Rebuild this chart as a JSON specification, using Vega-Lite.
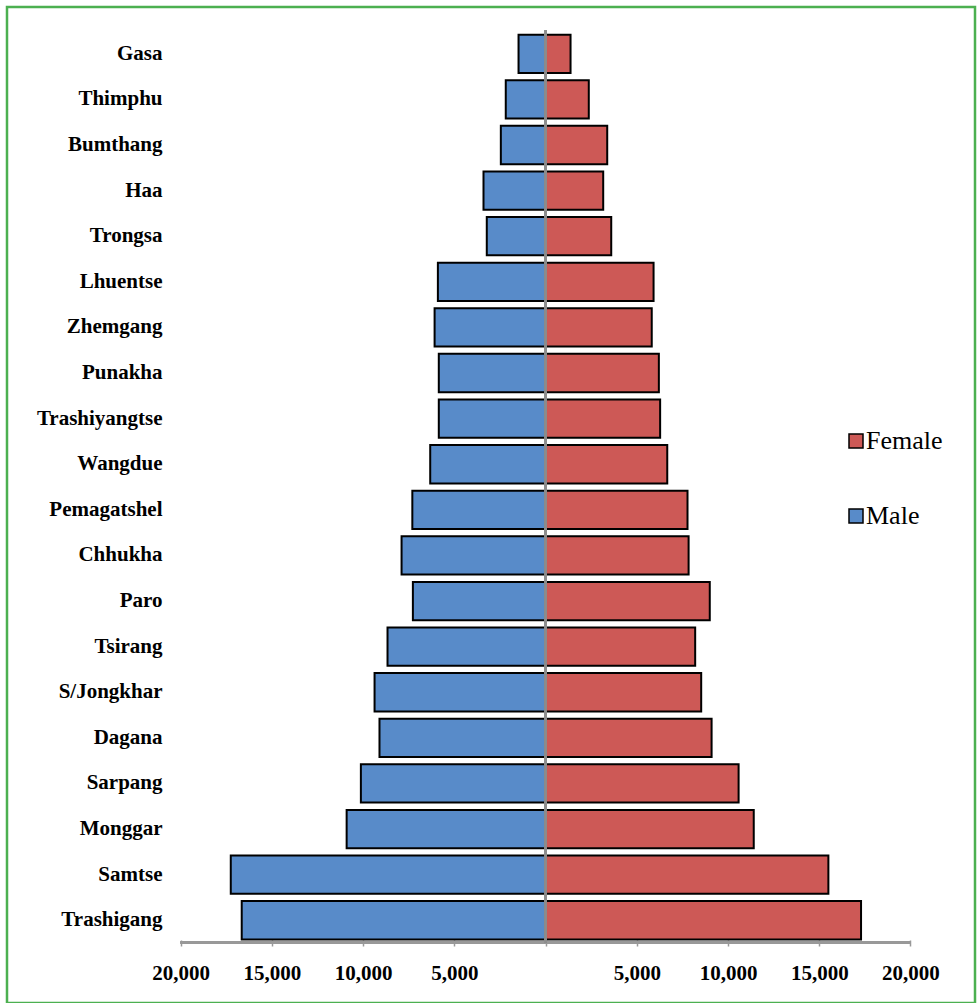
{
  "$schema": "https://vega.github.io/schema/vega-lite/v6.json",
  "width": 968,
  "height": 996,
  "padding": {"left": 7, "top": 7, "right": 2, "bottom": 0},
  "background": "white",
  "config": {
    "view": {"stroke": "#4CB050", "strokeWidth": 2.5},
    "font": "Liberation Serif"
  },
  "data": {
    "values": [
      {"district": "Gasa", "sex": "Male", "value": -1480},
      {"district": "Gasa", "sex": "Female", "value": 1370},
      {"district": "Thimphu", "sex": "Male", "value": -2180},
      {"district": "Thimphu", "sex": "Female", "value": 2370},
      {"district": "Bumthang", "sex": "Male", "value": -2450},
      {"district": "Bumthang", "sex": "Female", "value": 3380},
      {"district": "Haa", "sex": "Male", "value": -3400},
      {"district": "Haa", "sex": "Female", "value": 3160},
      {"district": "Trongsa", "sex": "Male", "value": -3220},
      {"district": "Trongsa", "sex": "Female", "value": 3600},
      {"district": "Lhuentse", "sex": "Male", "value": -5900},
      {"district": "Lhuentse", "sex": "Female", "value": 5920},
      {"district": "Zhemgang", "sex": "Male", "value": -6080},
      {"district": "Zhemgang", "sex": "Female", "value": 5820},
      {"district": "Punakha", "sex": "Male", "value": -5850},
      {"district": "Punakha", "sex": "Female", "value": 6210},
      {"district": "Trashiyangtse", "sex": "Male", "value": -5850},
      {"district": "Trashiyangtse", "sex": "Female", "value": 6280},
      {"district": "Wangdue", "sex": "Male", "value": -6320},
      {"district": "Wangdue", "sex": "Female", "value": 6670},
      {"district": "Pemagatshel", "sex": "Male", "value": -7300},
      {"district": "Pemagatshel", "sex": "Female", "value": 7780},
      {"district": "Chhukha", "sex": "Male", "value": -7890},
      {"district": "Chhukha", "sex": "Female", "value": 7840},
      {"district": "Paro", "sex": "Male", "value": -7270},
      {"district": "Paro", "sex": "Female", "value": 9000},
      {"district": "Tsirang", "sex": "Male", "value": -8660},
      {"district": "Tsirang", "sex": "Female", "value": 8200},
      {"district": "S/Jongkhar", "sex": "Male", "value": -9370},
      {"district": "S/Jongkhar", "sex": "Female", "value": 8530},
      {"district": "Dagana", "sex": "Male", "value": -9100},
      {"district": "Dagana", "sex": "Female", "value": 9100},
      {"district": "Sarpang", "sex": "Male", "value": -10120},
      {"district": "Sarpang", "sex": "Female", "value": 10580},
      {"district": "Monggar", "sex": "Male", "value": -10900},
      {"district": "Monggar", "sex": "Female", "value": 11410},
      {"district": "Samtse", "sex": "Male", "value": -17250},
      {"district": "Samtse", "sex": "Female", "value": 15500},
      {"district": "Trashigang", "sex": "Male", "value": -16650},
      {"district": "Trashigang", "sex": "Female", "value": 17290}
    ]
  },
  "layer": [
    {
      "mark": {"type": "bar", "stroke": "black", "strokeWidth": 2, "strokeJoin": "miter"},
      "encoding": {
        "y": {
          "field": "district",
          "type": "nominal",
          "scale": {
            "domain": ["Gasa", "Thimphu", "Bumthang", "Haa", "Trongsa", "Lhuentse", "Zhemgang", "Punakha", "Trashiyangtse", "Wangdue", "Pemagatshel", "Chhukha", "Paro", "Tsirang", "S/Jongkhar", "Dagana", "Sarpang", "Monggar", "Samtse", "Trashigang"],
            "paddingInner": 0.16,
            "paddingOuter": 1.042,
            "align": 0.303
          },
          "axis": {
            "title": null,
            "domain": false,
            "ticks": false,
            "tickSize": 0,
            "labelPadding": 0,
            "offset": -155,
            "labelFont": "Liberation Serif",
            "labelFontWeight": "bold",
            "labelFontSize": 21,
            "labelColor": "black"
          }
        },
        "x": {
          "field": "value",
          "type": "quantitative",
          "scale": {"domain": [-29513, 23535], "nice": false, "zero": false},
          "axis": {
            "title": null,
            "values": [-20000, -15000, -10000, -5000, 0, 5000, 10000, 15000, 20000],
            "labelExpr": "datum.value == 0 ? '' : format(abs(datum.value), ',')",
            "domain": false,
            "grid": false,
            "ticks": true,
            "tickSize": 6,
            "tickColor": "#999999",
            "tickWidth": 1.5,
            "offset": -63,
            "labelPadding": 16,
            "labelFont": "Liberation Serif",
            "labelFontWeight": "bold",
            "labelFontSize": 21,
            "labelColor": "black",
            "labelFlush": false,
            "labelOverlap": false
          }
        },
        "color": {
          "field": "sex",
          "type": "nominal",
          "scale": {"domain": ["Female", "Male"], "range": ["#CD5956", "#588BC9"]},
          "legend": {
            "title": null,
            "orient": "none",
            "legendX": 836,
            "legendY": 421,
            "symbolType": "square",
            "symbolSize": 196,
            "symbolStrokeColor": "black",
            "symbolStrokeWidth": 1.5,
            "labelFont": "Liberation Serif",
            "labelFontSize": 26,
            "labelColor": "black",
            "labelOffset": -3,
            "rowPadding": 49
          }
        }
      }
    },
    {
      "mark": {"type": "rule", "color": "#999999", "strokeWidth": 1.5},
      "encoding": {
        "x": {"datum": -20000, "type": "quantitative"},
        "x2": {"datum": 20000},
        "y": {"datum": "Trashigang", "type": "nominal", "bandPosition": 1.08}
      }
    },
    {
      "mark": {"type": "rule", "color": "#8C8C8C", "strokeWidth": 1.5},
      "encoding": {
        "x": {"datum": 0, "type": "quantitative"},
        "y": {"datum": "Gasa", "type": "nominal", "bandPosition": -0.1},
        "y2": {"datum": "Trashigang", "bandPosition": 1.08}
      }
    }
  ]
}
